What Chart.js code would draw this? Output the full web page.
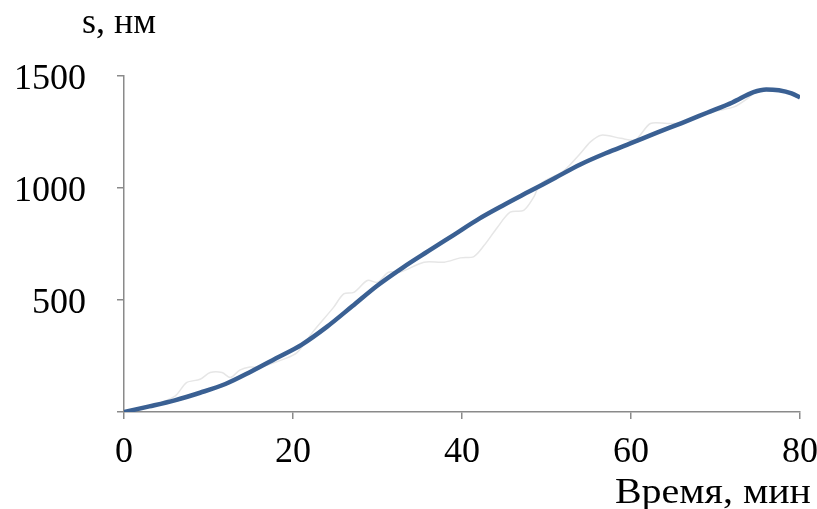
<!DOCTYPE html>
<html>
<head>
<meta charset="utf-8">
<script src="https://cdn.jsdelivr.net/npm/chart.js@4.4.1/dist/chart.umd.min.js"></script>
<style>
  html, body { margin: 0; padding: 0; background: #fff; }
  #wrap { position: relative; width: 817px; height: 509px; }
</style>
</head>
<body>
<div id="wrap"><canvas id="chart" width="817" height="509"></canvas></div>
<script>
// smoothed curve, s (nm) vs time (min)
const smoothTime = [0, 3, 6, 9, 12, 15, 18, 21, 24, 27, 30, 33, 36, 39, 42, 45, 48, 51, 54, 57, 60, 63, 66, 69, 72, 74.5, 76, 77.5, 79, 80];
const smoothS = [0, 25, 52, 86, 125, 180, 240, 300, 380, 472, 565, 645, 718, 790, 862, 925, 985, 1045, 1105, 1155, 1200, 1246, 1290, 1336, 1382, 1428, 1440, 1436, 1422, 1404];

// raw measurement (faint line)
const rawTime = [0, 3, 6, 7.4, 9, 10.2, 11.6, 12.6, 13.7, 14.9, 16.1, 18.9, 20.5, 22.4, 24.8, 26, 27.2, 28.8, 30, 31.3, 32.7, 35.5, 37.9, 39.8, 41.4, 42.6, 44.2, 45.7, 47.3, 48.5, 49.3, 52, 54, 55.2, 56.5, 58.8, 60.5, 62.3, 64.3, 66, 68, 70.2, 72.2, 73.8, 75, 76, 78, 80];
const rawS = [0, 25, 70, 131, 146, 176, 176, 154, 187, 201, 200, 236, 266, 360, 467, 527, 534, 587, 579, 624, 625, 669, 669, 688, 694, 743, 825, 892, 900, 960, 1019, 1075, 1154, 1206, 1236, 1222, 1215, 1288, 1288, 1290, 1320, 1345, 1362, 1400, 1435, 1438, 1432, 1400];

const xTicks = [0, 20, 40, 60, 80];
const yTicks = [500, 1000, 1500];

const serif = "'Liberation Serif', 'Times New Roman', serif";
const axisGrey = '#8a8a8a';

const toPoints = (xs, ys) => xs.map((x, i) => ({ x: x, y: ys[i] }));

// axis captions drawn on the canvas
const captions = {
  id: 'captions',
  afterDraw(chart) {
    const c = chart.ctx;
    c.save();
    c.fillStyle = '#000';
    c.font = '36px ' + serif;
    c.textBaseline = 'alphabetic';
    c.textAlign = 'left';
    c.fillText('s, нм', 82, 33);
    // x caption is a bit wider in the original
    c.translate(811, 503);
    c.scale(1.11, 1);
    c.textAlign = 'right';
    c.fillText('Время, мин', 0, 0);
    c.restore();
  }
};

new Chart(document.getElementById('chart'), {
  type: 'line',
  data: {
    datasets: [
      {
        label: 'raw',
        data: toPoints(rawTime, rawS),
        borderColor: '#e6e6e6',
        borderWidth: 1.5,
        pointRadius: 0,
        tension: 0.3,
        order: 2
      },
      {
        label: 's',
        data: toPoints(smoothTime, smoothS),
        borderColor: '#3a6093',
        borderWidth: 4.5,
        pointRadius: 0,
        cubicInterpolationMode: 'monotone',
        order: 1
      }
    ]
  },
  options: {
    responsive: false,
    animation: false,
    layout: { padding: { left: 0, right: 0, top: 76, bottom: 0 } },
    plugins: {
      legend: { display: false },
      tooltip: { enabled: false }
    },
    scales: {
      x: {
        type: 'linear',
        min: 0,
        max: 80,
        afterBuildTicks: s => { s.ticks = xTicks.map(v => ({ value: v })); },
        afterFit: s => { s.height = 97; s.paddingRight = 17; s.paddingLeft = 0; },
        border: { color: axisGrey, width: 1.5 },
        grid: { drawOnChartArea: false, color: axisGrey, tickLength: 7, lineWidth: 1.5 },
        ticks: { color: '#000', font: { family: serif, size: 36 }, padding: 12, maxRotation: 0 }
      },
      y: {
        min: 0,
        max: 1500,
        afterBuildTicks: s => { s.ticks = [0].concat(yTicks).map(v => ({ value: v })); },
        afterFit: s => { s.width = 124; },
        border: { color: axisGrey, width: 1.5 },
        grid: { drawOnChartArea: false, color: axisGrey, tickLength: 7, lineWidth: 1.5 },
        ticks: {
          color: '#000',
          font: { family: serif, size: 36 },
          padding: 31,
          labelOffset: 4,
          callback: v => (v === 0 ? '' : v)
        }
      }
    }
  },
  plugins: [captions]
});
</script>
</body>
</html>
